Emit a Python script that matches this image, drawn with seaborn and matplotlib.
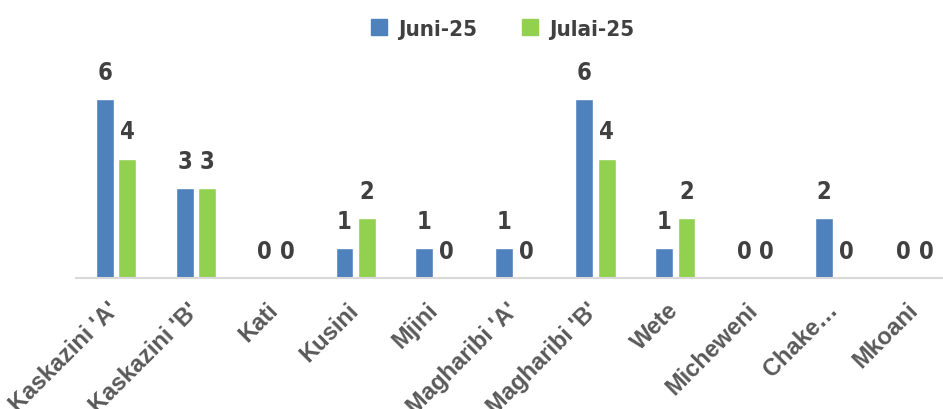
import pandas as pd
import matplotlib.pyplot as plt
import matplotlib.transforms as mtransforms
import seaborn as sns

# regions and monthly counts
regions = ["Kaskazini 'A'", "Kaskazini 'B'", "Kati", "Kusini", "Mjini", "Magharibi 'A'",
           "Magharibi 'B'", "Wete", "Micheweni", "Chake\u2026", "Mkoani"]
juni = [6, 3, 0, 1, 1, 1, 6, 1, 0, 2, 0]
julai = [4, 3, 0, 2, 0, 0, 4, 2, 0, 0, 0]
series = ["Juni-25", "Julai-25"]
colors = ["#4F81BD", "#92D050"]

df = pd.DataFrame({
    "region": regions * 2,
    "value": juni + julai,
    "month": [series[0]] * len(regions) + [series[1]] * len(regions),
})

sns.set_style("white")
plt.rcParams["font.family"] = ["Liberation Sans", "DejaVu Sans"]

fig = plt.figure(figsize=(9.43, 4.10), dpi=100)
ax = fig.add_axes([76 / 943, 1 - 279 / 410, (943 - 76) / 943, 209 / 410])

sns.barplot(data=df, x="region", y="value", hue="month", palette=colors,
            saturation=1, width=0.56, gap=0.2, ax=ax, legend=False)

for cont in ax.containers:
    ax.bar_label(cont, fmt="%d", padding=11, fontsize=17, fontweight="bold",
                 color="#404040", family="DejaVu Sans", fontstretch="condensed")

ax.set_xlim(-0.5, 10.35)
ax.set_ylim(0, 7)
ax.set_xlabel("")
ax.set_ylabel("")
ax.set_yticks([])
for side in ["left", "right", "top"]:
    ax.spines[side].set_visible(False)
ax.spines["bottom"].set_color("#D9D9D9")
ax.spines["bottom"].set_linewidth(1.5)
ax.tick_params(axis="x", length=0, pad=7)
shift = mtransforms.ScaledTranslation(-0.09, -0.10, fig.dpi_scale_trans)
for lbl in ax.get_xticklabels():
    lbl.set_rotation(45)
    lbl.set_ha("right")
    lbl.set_rotation_mode("anchor")
    lbl.set_fontsize(17)
    lbl.set_fontweight("bold")
    lbl.set_color("#595959")
    lbl.set_transform(lbl.get_transform() + shift)

handles = [plt.Rectangle((0, 0), 1, 1, color=c) for c in colors]
fig.legend(handles, series, loc="upper center", bbox_to_anchor=(0.533, 1.0), ncol=2,
           frameon=False, handlelength=0.75, handleheight=0.75, columnspacing=2.0,
           handletextpad=0.5,
           prop={"family": "DejaVu Sans", "stretch": "condensed", "weight": "bold", "size": 16},
           labelcolor="#404040")

fig.savefig("out.png", dpi=100)
